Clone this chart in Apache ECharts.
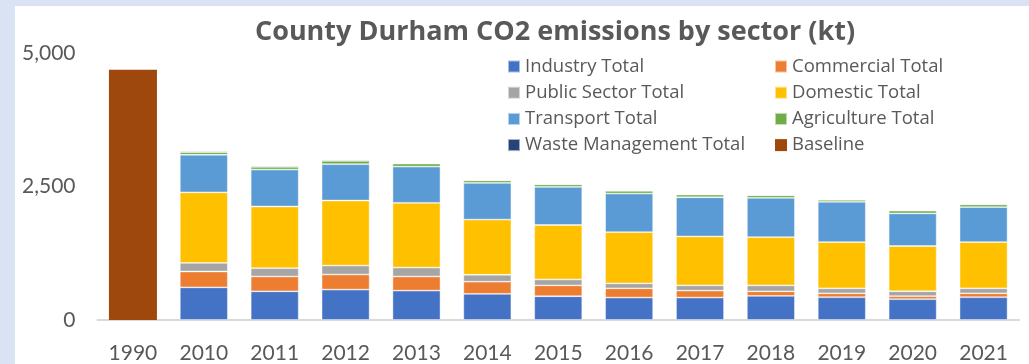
<!DOCTYPE html>
<html>
<head>
<meta charset="utf-8">
<script src="https://cdn.jsdelivr.net/npm/echarts@6/dist/echarts.min.js"></script>
<style>
  html, body { margin: 0; padding: 0; background: #DAE3F3; }
  #panel { position: absolute; left: 15px; top: 6px; width: 1014px; height: 358px; background: #ffffff; }
  #chart { position: absolute; left: 0; top: 0; width: 1029px; height: 364px; }
</style>
</head>
<body>
<div id="panel"></div>
<div id="chart"></div>
<script>
// County Durham CO2 emissions by sector, kilotonnes
const years = ['1990', '2010', '2011', '2012', '2013', '2014', '2015', '2016', '2017', '2018', '2019', '2020', '2021'];

// Sector values for 2010–2021 (1990 is shown only as the baseline)
const industry     = [612, 538, 570, 551, 490, 445, 421, 421, 453, 427, 390, 427];
const commercial   = [297, 278, 284, 265, 228, 204, 173, 130, 85, 74, 56, 74];
const publicSector = [161, 155, 167, 167, 130, 111, 93, 98, 111, 93, 93, 93];
const domestic     = [1323, 1157, 1219, 1214, 1034, 1021, 960, 917, 904, 867, 848, 867];
const transport    = [705, 693, 681, 679, 687, 713, 724, 735, 737, 755, 612, 655];
const agriculture  = [50, 50, 62, 56, 48, 48, 50, 50, 48, 37, 50, 50];
const waste        = [19, 19, 19, 13, 13, 13, 12, 13, 13, 12, 12, 13];
const baseline1990 = 4690;

const yTicks = [0, 2500, 5000];

const textGray = '#595959';
const axisFont = 'Lato, "Open Sans", sans-serif';
const textFont = '"Open Sans", Lato, sans-serif';

// 1990 has no sector breakdown; sector series start at 2010
const sectorSeries = [
  ['Industry Total', industry, '#4472C4'],
  ['Commercial Total', commercial, '#ED7D31'],
  ['Public Sector Total', publicSector, '#A5A5A5'],
  ['Domestic Total', domestic, '#FFC000'],
  ['Transport Total', transport, '#5B9BD5'],
  ['Agriculture Total', agriculture, '#70AD47'],
  ['Waste Management Total', waste, '#264478']
];

const series = sectorSeries.map(([name, vals, color]) => ({
  name,
  type: 'bar',
  stack: 'total',
  barWidth: 48,
  data: ['-'].concat(vals),
  itemStyle: { color, borderColor: 'rgba(255,255,255,0.55)', borderWidth: 0.8 }
}));

series.push({
  name: 'Baseline',
  type: 'bar',
  stack: 'total',
  barWidth: 48,
  data: [baseline1990].concat(years.slice(1).map(() => '-')),
  itemStyle: { color: '#9E480E' }
});

const legendCommon = {
  orient: 'vertical',
  icon: 'rect',
  itemWidth: 12,
  itemHeight: 12,
  itemGap: 7.2,
  top: 52,
  textStyle: { color: textGray, fontSize: 18.5, fontFamily: textFont, lineHeight: 18.5 },
  selectedMode: false
};

const chart = echarts.init(document.getElementById('chart'), null, { renderer: 'canvas' });
chart.setOption({
  backgroundColor: 'transparent',
  animation: false,
  title: {
    text: 'County Durham CO2 emissions by sector (kt)',
    left: 550,
    textAlign: 'center',
    top: 14,
    textStyle: { color: textGray, fontSize: 27, fontWeight: 'bold', fontFamily: textFont }
  },
  legend: [
    Object.assign({}, legendCommon, {
      left: 502,
      data: ['Industry Total', 'Public Sector Total', 'Transport Total', 'Waste Management Total']
    }),
    Object.assign({}, legendCommon, {
      left: 769,
      data: ['Commercial Total', 'Domestic Total', 'Agriculture Total', 'Baseline']
    })
  ],
  grid: { left: 97.5, right: 10, top: 53.3, bottom: 364 - 322.7, containLabel: false },
  xAxis: {
    type: 'category',
    data: years,
    axisLine: { lineStyle: { color: '#D9D9D9', width: 2 } },
    axisTick: { show: false },
    axisLabel: { color: textGray, fontSize: 21, fontFamily: axisFont, margin: 23 }
  },
  yAxis: {
    type: 'value',
    min: yTicks[0],
    max: yTicks[yTicks.length - 1],
    interval: yTicks[1] - yTicks[0],
    splitLine: { show: false },
    axisLine: { show: false },
    axisTick: { show: false },
    axisLabel: {
      color: textGray, fontSize: 21, fontFamily: axisFont, margin: 22,
      formatter: v => v.toLocaleString('en-US')
    }
  },
  series
});
</script>
</body>
</html>
